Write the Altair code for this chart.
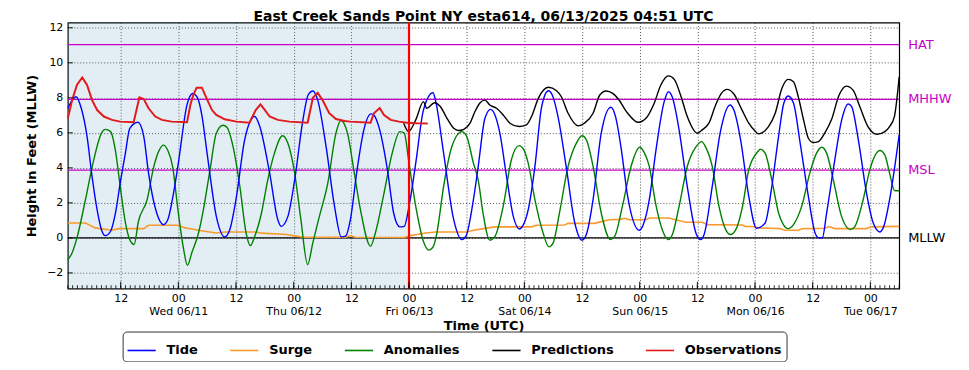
import altair as alt
import pandas as pd

# ---------------- data ----------------
START = "2025-06-10T01:00:00Z"
END = "2025-06-17T06:00:00Z"
NOW = "2025-06-13T00:00:00Z"

series_names = ["Tide", "Surge", "Anomalies", "Predictions", "Observations"]
series_colors = ["#0000ff", "#f89a2e", "#008000", "#000000", "#e31a1c"]

tide_h = [0.0, 1.7, 2.8, 4.0, 5.05, 6.1, 7.0, 7.8, 8.9, 9.9, 11.0, 11.96, 12.9, 14.6, 15.8, 16.8, 18.5,
          19.9, 20.8, 22.0, 23.0, 24.8, 26.0, 27.0, 27.9, 29.0, 30.9, 32.65, 33.7, 35.1, 36.8, 38.9,
          39.9, 42.0, 43.7, 44.4, 45.8, 47.2, 48.9, 50.0, 51.0, 52.0, 53.75, 55.5, 56.9, 57.8, 58.8,
          60.2, 61.6, 63.1, 63.7, 64.9, 66.5, 67.8, 69.1, 70.0, 71.0, 72.4, 74.0, 76.0, 76.5, 78.2,
          80.3, 82.0, 82.9, 84.4, 85.4, 86.8, 88.0, 88.9, 89.9, 91.3, 92.7, 94.0, 94.7, 95.8, 97.2,
          98.6, 100.0, 100.8, 102.0, 103.7, 105.5, 107.0, 107.9, 109.3, 111.0, 113.0, 114.0, 115.1,
          116.5, 118.9, 119.6, 121.0, 122.3, 124.1, 125.0, 125.8, 127.2, 128.9, 130.7, 131.7, 132.4,
          134.1, 135.8, 137.8, 138.6, 140.0, 141.7, 143.3, 145.1, 146.5, 147.9, 149.0, 149.9, 151.0,
          152.4, 154.1, 155.5, 156.3, 157.0, 157.9, 159.6, 161.0, 162.4, 163.1, 164.5, 166.2, 167.6,
          169.0, 169.8, 171.0, 173.0]
tide_v = [7.4, 8.06, 7.4, 5.8, 3.5, 1.6, 0.47, 0.13, 0.38, 1.4, 3.3, 4.8, 6.26, 6.6, 5.8, 3.7, 1.42,
          0.76, 1.04, 2.56, 4.27, 7.6, 8.25, 8.0, 7.0, 4.8, 1.23, 0.06, 0.47, 2.37, 5.6, 6.93,
          6.4, 3.7, 1.04, 0.66, 1.23, 3.3, 6.7, 8.16, 8.39, 7.87, 5.2, 1.8, 0.06, 0.1, 1.04,
          3.9, 6.17, 7.08, 7.0, 6.17, 3.9, 1.42, 0.63, 0.66, 1.8, 4.27, 7.3, 8.29, 7.87, 4.84,
          1.04, -0.1, 0.13, 2.18, 4.08, 6.83, 7.34, 7.0, 5.98, 3.5, 1.23, 0.51, 0.7, 1.6, 4.08,
          7.5, 8.4, 8.16, 6.93, 4.08, 0.85, -0.13, 0.19, 2.18, 5.98, 7.46, 6.9, 5.2,
          2.37, 0.44, 0.66, 2.18, 4.84, 7.78, 8.35, 8.03, 6.17, 2.94, 0.28, -0.1, 0.19,
          2.94, 6.07, 7.59, 7.3, 5.6, 2.37, 0.55, 0.85, 2.94, 5.8, 7.7, 8.1, 7.7,
          5.4, 2.37, 0.28, 0.0, 0.0, 1.42, 4.46, 6.7, 7.65, 7.5, 5.6, 2.56, 0.85,
          0.34, 0.66, 2.18, 5.9]

anom_h = [0.0, 0.9, 1.9, 3.67, 5.4, 7.0, 7.8, 8.9, 9.9, 10.9, 12.0, 12.9, 13.8, 14.7, 16.5, 17.9, 19.0,
          19.9, 20.8, 21.8, 23.0, 24.1, 24.9, 25.8, 27.2, 28.15, 29.6, 30.9, 32.3, 33.1, 34.4, 35.8,
          37.1, 37.97, 38.9, 40.3, 41.6, 43.0, 44.7, 45.8, 47.2, 48.5, 49.9, 50.98, 52.35, 54.1, 55.8,
          56.8, 58.2, 59.5, 60.9, 63.0, 64.0, 65.8, 67.5, 69.1, 70.0, 71.0, 72.4, 74.1, 75.1, 76.1,
          76.8, 78.2, 79.9, 82.0, 83.0, 84.4, 85.4, 86.4, 87.8, 88.9, 90.6, 92.3, 93.9, 94.9, 95.8,
          97.2, 98.9, 100.1, 101.0, 102.3, 104.1, 105.8, 107.0, 107.9, 109.3, 111.0, 112.9, 113.8,
          115.4, 117.2, 119.0, 119.9, 121.0, 122.3, 123.7, 125.0, 125.8, 127.2, 128.9, 130.7, 131.9,
          132.7, 134.1, 135.5, 136.9, 137.9, 139.0, 140.4, 141.7, 143.6, 144.1, 145.1, 146.5, 147.9,
          148.9, 149.9, 151.0, 152.7, 154.4, 155.8, 156.9, 157.9, 159.3, 161.0, 162.9, 163.8, 165.5,
          166.9, 169.0, 170.0, 171.0, 172.0, 173.0]
anom_v = [-1.25, -0.85, 0.0, 2.18, 4.46, 5.98, 6.2, 6.07, 5.0, 2.94, 0.85, -0.1, -0.38, 0.95, 2.18, 4.08, 5.0,
          5.3, 5.0, 4.08, 1.42, -0.66, -1.57, -0.85, 0.28, 1.52, 3.9, 5.98, 6.43, 6.32, 5.2, 2.94,
          0.28, -0.44, 0.09, 1.42, 3.3, 4.84, 5.83, 5.4, 3.7, 1.04, -1.52, -0.28, 1.23, 3.13, 5.98,
          6.7, 5.98, 3.9, 1.6, -0.47, 0.28, 2.56, 4.84, 6.07, 5.98, 4.27, 1.8, -0.28, -0.7, -0.47,
          0.28, 2.94, 5.2, 6.07, 5.8, 4.27, 3.3, 1.42, -0.13, 0.09, 1.8, 4.46, 5.27, 5.03, 4.27,
          2.18, 0.28, -0.51, -0.28, 1.42, 4.08, 5.4, 5.83, 5.6, 4.08, 1.42, -0.1, 0.09,
          1.8, 4.08, 5.18, 4.9, 4.08, 1.99, 0.47, -0.1, 0.19, 1.8, 4.08, 5.2, 5.5,
          5.2, 4.08, 1.8, 0.47, 0.19, 0.47, 1.8, 3.9, 4.93, 5.07, 4.84, 3.3, 1.42,
          0.76, 0.53, 0.76, 1.8, 3.7, 4.84, 5.18, 4.84, 3.3, 1.23, 0.47, 0.66, 2.18,
          3.9, 4.99, 4.74, 3.7, 2.71, 2.69]

surge_h = [0.0, 3.7, 5.7, 7.5, 9.2, 10.6, 15.8, 16.8, 23.0, 24.4, 25.8, 27.5, 30.9, 32.65, 39.2, 40.3,
           45.5, 46.9, 49.0, 57.8, 58.8, 59.8, 70.0, 71.3, 72.7, 74.1, 76.5, 83.0, 84.4, 87.5, 88.9,
           96.5, 97.5, 103.4, 104.1, 109.6, 111.0, 112.7, 115.0, 115.8, 116.8, 120.3, 121.0, 125.1,
           126.5, 128.6, 132.0, 133.1, 140.3, 141.0, 143.0, 143.7, 148.2, 149.2, 152.0, 153.0, 157.5,
           158.4, 159.6, 166.2, 167.2, 173.0]
surge_v = [0.85, 0.85, 0.57, 0.5, 0.44, 0.53, 0.53, 0.72, 0.72, 0.57, 0.51, 0.42, 0.28, 0.34, 0.34, 0.27,
           0.19, 0.13, 0.04, 0.04, 0.13, 0.04, 0.02, 0.13, 0.19, 0.27, 0.34, 0.34, 0.44, 0.57, 0.63,
           0.63, 0.72, 0.74, 0.83, 0.83, 0.93, 1.04, 1.06, 1.12, 1.04, 1.04, 1.14, 1.14,
           1.04, 0.89, 0.89, 0.76, 0.74, 0.66, 0.64, 0.57, 0.53, 0.44, 0.44, 0.53, 0.55,
           0.65, 0.53, 0.53, 0.63, 0.66]

pred_h = [69.9, 70.9, 72.4, 74.0, 74.7, 76.3, 77.5, 78.9, 80.3, 81.3, 82.4, 83.7, 84.7, 85.8, 86.8, 87.8,
          89.2, 90.6, 92.0, 93.9, 95.4, 96.5, 97.9, 100.0, 101.7, 102.7, 104.1, 106.2, 107.5, 109.3,
          110.7, 112.0, 113.4, 114.5, 116.5, 118.7, 120.3, 122.0, 123.4, 125.0, 126.2, 127.5, 128.9,
          131.0, 132.0, 133.4, 134.8, 136.0, 137.2, 138.6, 140.3, 141.7, 143.1, 143.7, 145.8, 147.2,
          148.6, 149.9, 151.0, 152.0, 153.1, 154.1, 155.1, 156.2, 157.5, 158.9, 160.5, 162.0, 163.4,
          164.8, 166.5, 168.4, 170.0, 171.0, 172.0, 173.0]
pred_v = [6.55, 6.07, 6.74, 7.78, 7.4, 7.72, 7.5, 6.83, 6.26, 6.13, 6.2, 6.55, 7.2, 7.72, 7.87, 7.59,
          7.4, 7.02, 6.55, 6.36, 6.45, 6.93, 7.97, 8.6, 8.4, 8.06, 7.12, 6.4, 6.55, 7.12,
          8.16, 8.39, 8.25, 7.95, 7.12, 6.6, 6.83, 7.68, 8.73, 9.25, 9.05, 8.16, 6.93,
          5.98, 6.17, 6.55, 7.59, 8.25, 8.48, 8.22, 7.3, 6.55, 6.07, 5.94, 6.36, 7.12,
          8.54, 9.05, 8.92, 8.06, 6.74, 5.69, 5.45, 5.5, 5.98, 6.74, 8.16, 8.67, 8.44,
          7.5, 6.36, 5.92, 6.07, 6.36, 6.93, 9.2]

obs_h = [0.0, 0.9, 1.9, 3.0, 4.0, 5.05, 6.1, 7.5, 9.2, 10.9, 13.7, 14.9, 15.8, 16.8, 18.2, 19.6, 21.6,
         24.8, 25.5, 26.1, 26.8, 27.9, 29.0, 30.0, 30.9, 32.65, 35.1, 37.8, 39.1, 40.1, 40.9, 42.0,
         43.7, 46.1, 49.9, 51.0, 52.0, 53.0, 54.4, 55.8, 57.6, 58.8, 63.0, 63.7, 64.9, 65.8, 67.2,
         68.9, 70.6, 72.6, 74.9]
obs_v = [6.83, 7.87, 8.73, 9.16, 8.73, 7.87, 7.3, 6.93, 6.74, 6.64, 6.6, 8.03, 7.93, 7.4, 6.93, 6.74, 6.64,
         6.6, 7.59, 8.16, 8.58, 8.58, 7.9, 7.3, 7.02, 6.77, 6.64, 6.58, 7.3, 7.63, 7.34, 6.93,
         6.74, 6.64, 6.58, 8.0, 8.29, 7.87, 7.12, 6.79, 6.68, 6.64, 6.58, 7.12, 7.42, 7.02, 6.74,
         6.64, 6.58, 6.55, 6.53]

level_names = ["HAT", "MHHW", "MSL"]
level_values = [11.04, 7.91, 3.87]
mllw_name = ["MLLW"]
mllw_value = [0.0]

y_tick_values = [-2, 0, 2, 4, 6, 8, 10, 12]

# ---------------- helpers ----------------
W, H = 834, 267
start_ts = pd.Timestamp(START)


def iso(ts):
    return ts.strftime("%Y-%m-%dT%H:%M:%SZ")


def frame(hours, values, name):
    t = start_ts + pd.to_timedelta(hours, unit="h")
    return pd.DataFrame({"time": list(iso(t)), "value": values, "series": name})


major_times = pd.date_range("2025-06-10T12:00:00Z", "2025-06-17T00:00:00Z", freq="12h")
minor_times = pd.date_range(START, END, freq="h")
major_ms = [int(ts.value // 10**6) for ts in major_times]

FONT = "DejaVu Sans"
MAGENTA = "#c800c8"

xscale = alt.Scale(type="utc", nice=False,
                   domain=[alt.DateTime(year=2025, month=6, date=10, hours=1, utc=True),
                           alt.DateTime(year=2025, month=6, date=17, hours=6, utc=True)])
yscale = alt.Scale(domain=[-2.9, 12.3], nice=False, zero=False)

xaxis = alt.Axis(values=major_ms,
                 labelExpr="utchours(datum.value) == 0 ? [utcFormat(datum.value, '%H'), utcFormat(datum.value, '%a %m/%d')] : utcFormat(datum.value, '%H')",
                 grid=True, gridDash=[1, 2], gridColor="#444", gridWidth=0.9,
                 ticks=False, tickSize=0, domain=False,
                 labelFont=FONT, labelFontSize=11, labelColor="black", labelPadding=4,
                 labelLineHeight=13, labelOverlap=False, labelFlush=False,
                 title="Time (UTC)", titleFont=FONT, titleFontSize=13, titleFontWeight="bold",
                 titleColor="black", titlePadding=3)
yaxis = alt.Axis(values=y_tick_values, grid=True, gridDash=[1, 2], gridColor="#444", gridWidth=0.9,
                 ticks=False, tickSize=0, domain=False,
                 labelFont=FONT, labelFontSize=11, labelColor="black", labelPadding=5,
                 title="Height in Feet (MLLW)", titleFont=FONT, titleFontSize=13,
                 titleFontWeight="bold", titleColor="black", titlePadding=8)


def X(field="time"):
    return alt.X(f"{field}:T", scale=xscale, axis=xaxis, title="Time (UTC)")


def Y(field="value"):
    return alt.Y(f"{field}:Q", scale=yscale, axis=yaxis, title="Height in Feet (MLLW)")


color = alt.Color("series:N",
                  scale=alt.Scale(domain=series_names, range=series_colors),
                  legend=alt.Legend(orient="none", legendX=55, legendY=310, direction="horizontal",
                                    title=None, symbolType="stroke", symbolSize=800,
                                    symbolStrokeWidth=1.6, labelFont=FONT, labelFontSize=13,
                                    labelFontWeight="bold", labelColor="black", labelOffset=10,
                                    columnPadding=28, padding=4, strokeColor="#333",
                                    cornerRadius=4, fillColor="white"))

# ---------------- layers ----------------
shade_df = pd.DataFrame({"time": [START], "time2": [NOW]})
shade = alt.Chart(shade_df).mark_rect(color="#448eb6", opacity=0.15).encode(
    x=X(), x2="time2:T", y=alt.value(0), y2=alt.value(H))

levels_df = pd.DataFrame({"name": level_names, "value": level_values})
levels = alt.Chart(levels_df).mark_rule(color=MAGENTA, strokeWidth=1.3).encode(y=Y())
level_text = alt.Chart(levels_df).mark_text(align="left", baseline="middle", font=FONT,
                                             fontSize=13, color=MAGENTA).encode(
    y=Y(), x=alt.value(W + 9), text="name:N")

mllw_df = pd.DataFrame({"name": mllw_name, "value": mllw_value})
mllw = alt.Chart(mllw_df).mark_rule(color="black", strokeWidth=1.2).encode(y=Y())
mllw_text = alt.Chart(mllw_df).mark_text(align="left", baseline="middle", font=FONT,
                                          fontSize=13, color="black").encode(
    y=Y(), x=alt.value(W + 9), text="name:N")


def series_layer(df, width, interp):
    return alt.Chart(df).mark_line(strokeWidth=width, interpolate=interp).encode(
        x=X(), y=Y(), color=color)


surge = series_layer(frame(surge_h, surge_v, "Surge"), 1.6, "linear")
anom = series_layer(frame(anom_h, anom_v, "Anomalies"), 1.4, "monotone")
tide = series_layer(frame(tide_h, tide_v, "Tide"), 1.4, "monotone")
pred = series_layer(frame(pred_h, pred_v, "Predictions"), 1.4, "monotone")
obs = series_layer(frame(obs_h, obs_v, "Observations"), 2.0, "linear")

now_df = pd.DataFrame({"time": [NOW]})
now_rule = alt.Chart(now_df).mark_rule(color="#ff0000", strokeWidth=2.2).encode(x=X())

minor_df = pd.DataFrame({"time": [iso(t) for t in minor_times]})
minor_ticks = alt.Chart(minor_df).mark_rule(color="black", strokeWidth=0.8).encode(
    x=X(), y=alt.value(H - 3.5), y2=alt.value(H))
major_df = pd.DataFrame({"time": [iso(t) for t in major_times]})
major_ticks = alt.Chart(major_df).mark_rule(color="black", strokeWidth=0.9).encode(
    x=X(), y=alt.value(H - 7), y2=alt.value(H))
ytick_df = pd.DataFrame({"value": y_tick_values})
y_ticks = alt.Chart(ytick_df).mark_rule(color="black", strokeWidth=0.9).encode(
    y=Y(), x=alt.value(0), x2=alt.value(5))

chart = alt.layer(
    shade, levels, mllw, surge, anom, tide, pred, obs, now_rule,
    minor_ticks, major_ticks, y_ticks, level_text, mllw_text
).properties(
    width=W, height=H,
    title=alt.TitleParams("East Creek Sands Point NY esta614, 06/13/2025 04:51 UTC",
                          font=FONT, fontSize=14, fontWeight="bold", anchor="middle",
                          offset=4, dy=7, color="black"),
    padding={"left": 60, "top": 14, "right": 62, "bottom": 73},
    autosize=alt.AutoSizeParams(type="none"),
).configure(font=FONT, background="white").configure_view(stroke="black", strokeWidth=1.2)

chart.save("out.html", embed_options={"renderer": "svg", "actions": False})
